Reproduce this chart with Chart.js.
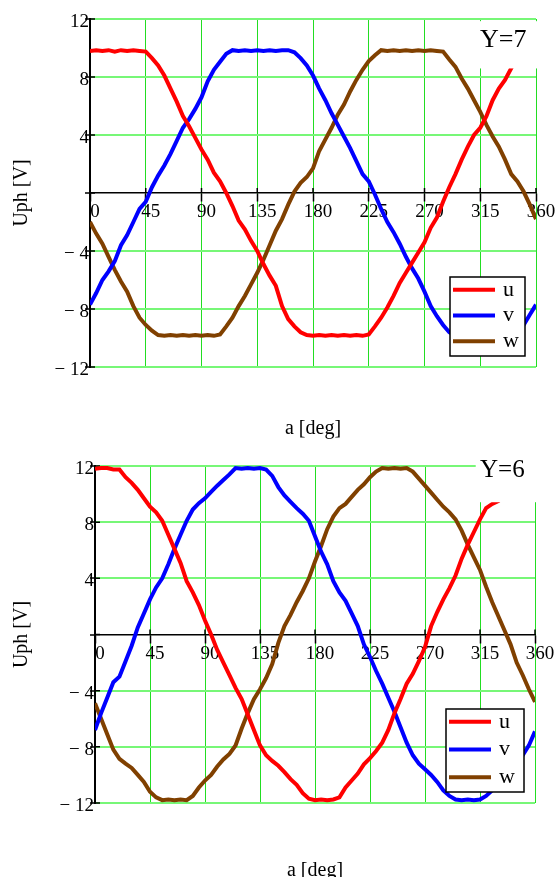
<!DOCTYPE html>
<html>
<head>
<meta charset="utf-8">
<script src="https://cdn.jsdelivr.net/npm/chart.js@4.4.1/dist/chart.umd.min.js"></script>
<style>
  html, body { margin: 0; padding: 0; background: #fff; }
  .panel { position: absolute; left: 0; width: 558px; }
  #top { top: 0; height: 440px; }
  #bottom { top: 440px; height: 437px; }
</style>
</head>
<body>
<div class="panel" id="top"><canvas id="chart7" width="558" height="440"></canvas></div>
<div class="panel" id="bottom"><canvas id="chart6" width="558" height="437"></canvas></div>
<script>
// angle a [deg], sampled every 5 degrees
const angles = [0, 5, 10, 15, 20, 25, 30, 35, 40, 45, 50, 55, 60, 65, 70, 75, 80, 85, 90,
  95, 100, 105, 110, 115, 120, 125, 130, 135, 140, 145, 150, 155, 160, 165, 170, 175, 180,
  185, 190, 195, 200, 205, 210, 215, 220, 225, 230, 235, 240, 245, 250, 255, 260, 265, 270,
  275, 280, 285, 290, 295, 300, 305, 310, 315, 320, 325, 330, 335, 340, 345, 350, 355, 360];
const xTicks = [0, 45, 90, 135, 180, 225, 270, 315, 360];
const yTicks = [-12, -8, -4, 0, 4, 8, 12];
const seriesNames = ["u", "v", "w"];
const seriesColors = ["#ff0000", "#0000ff", "#804000"];

// Y=7
const u7 = [9.8, 9.85, 9.8, 9.85, 9.75, 9.85, 9.8, 9.85, 9.8, 9.75, 9.3, 8.8, 8.1, 7.2, 6.3, 5.3, 4.6, 3.8, 3.0,
  2.3, 1.4, 0.8, 0.0, -0.9, -1.9, -2.5, -3.3, -4.0, -4.9, -5.7, -6.4, -7.8, -8.7, -9.2, -9.6, -9.8, -9.85,
  -9.8, -9.85, -9.8, -9.85, -9.8, -9.85, -9.8, -9.85, -9.75, -9.2, -8.6, -7.9, -7.1, -6.2, -5.5, -4.8, -4.1, -3.4,
  -2.4, -1.7, -0.6, 0.4, 1.3, 2.3, 3.2, 4.0, 4.5, 5.3, 6.4, 7.2, 7.8, 8.6, 9.3, 9.8, 9.85, 9.8];
const v7 = [-7.7, -6.9, -6.0, -5.4, -4.7, -3.6, -2.9, -2.0, -1.1, -0.6, 0.4, 1.2, 1.9, 2.7, 3.6, 4.5, 5.1, 5.8, 6.6,
  7.7, 8.5, 9.05, 9.6, 9.85, 9.8, 9.85, 9.8, 9.85, 9.8, 9.85, 9.8, 9.85, 9.85, 9.7, 9.3, 8.8, 8.1,
  7.2, 6.4, 5.5, 4.7, 3.9, 3.1, 2.2, 1.3, 0.8, -0.1, -1.1, -2.0, -2.7, -3.5, -4.4, -5.2, -5.9, -6.8,
  -7.8, -8.5, -9.1, -9.6, -9.85, -9.8, -9.85, -9.8, -9.85, -9.8, -9.85, -9.8, -9.85, -9.8, -9.6, -9.1, -8.4, -7.7];
const w7 = [-2.0, -2.8, -3.5, -4.4, -5.3, -6.1, -6.8, -7.8, -8.6, -9.1, -9.5, -9.8, -9.85, -9.8, -9.85, -9.8, -9.85, -9.8, -9.85,
  -9.8, -9.85, -9.75, -9.2, -8.6, -7.8, -7.1, -6.3, -5.5, -4.6, -3.6, -2.6, -1.8, -0.8, 0.1, 0.7, 1.1, 1.7,
  2.9, 3.7, 4.5, 5.4, 6.1, 7.0, 7.8, 8.5, 9.1, 9.5, 9.85, 9.8, 9.85, 9.8, 9.85, 9.8, 9.85, 9.8,
  9.85, 9.8, 9.75, 9.2, 8.7, 7.9, 7.2, 6.4, 5.6, 4.7, 3.9, 3.2, 2.3, 1.3, 0.8, 0.1, -0.8, -1.8];

// Y=6
const u6 = [11.8, 11.85, 11.85, 11.75, 11.75, 11.2, 10.8, 10.3, 9.7, 9.1, 8.7, 8.1, 7.1, 6.1, 5.1, 3.8, 3.0, 2.1, 1.0,
  0.0, -1.1, -2.0, -2.9, -3.8, -4.6, -5.7, -6.8, -7.9, -8.6, -9.0, -9.35, -9.8, -10.3, -10.7, -11.3, -11.7, -11.8,
  -11.75, -11.8, -11.75, -11.6, -10.9, -10.4, -9.9, -9.25, -8.8, -8.3, -7.7, -6.8, -5.6, -4.6, -3.5, -2.8, -1.9, -0.9,
  0.6, 1.6, 2.5, 3.3, 4.2, 5.4, 6.4, 7.3, 8.2, 9.0, 9.3, 9.5, 9.9, 10.4, 10.9, 11.3, 11.6, 11.8];
const v6 = [-6.8, -5.6, -4.5, -3.4, -3.0, -1.9, -0.8, 0.5, 1.5, 2.5, 3.35, 4.0, 5.0, 6.1, 7.1, 8.1, 8.9, 9.35, 9.7,
  10.15, 10.6, 11.0, 11.4, 11.85, 11.8, 11.85, 11.8, 11.85, 11.75, 11.3, 10.5, 9.9, 9.45, 9.0, 8.6, 8.1, 7.0,
  5.9, 5.0, 3.8, 3.0, 2.4, 1.5, 0.6, -0.7, -1.6, -2.6, -3.5, -4.5, -5.5, -6.6, -7.7, -8.6, -9.2, -9.6,
  -10.0, -10.5, -11.1, -11.5, -11.75, -11.8, -11.75, -11.8, -11.75, -11.5, -11.1, -10.7, -10.2, -9.7, -9.2, -8.6, -7.9, -6.9];
const w6 = [-4.9, -6.0, -7.1, -8.2, -8.85, -9.2, -9.5, -10.0, -10.5, -11.2, -11.6, -11.8, -11.75, -11.8, -11.75, -11.8, -11.5, -10.9, -10.4,
  -10.0, -9.4, -8.9, -8.5, -7.9, -6.7, -5.6, -4.6, -3.9, -3.1, -2.1, -0.6, 0.6, 1.4, 2.3, 3.1, 4.0, 5.2,
  6.3, 7.5, 8.4, 9.0, 9.3, 9.8, 10.3, 10.7, 11.2, 11.6, 11.85, 11.8, 11.85, 11.8, 11.85, 11.6, 11.1, 10.6,
  10.1, 9.6, 9.1, 8.7, 8.2, 7.4, 6.4, 5.5, 4.6, 3.4, 2.3, 1.3, 0.3, -0.7, -2.0, -2.9, -3.9, -4.8];

const serif = "'Liberation Serif', 'Times New Roman', serif";
Chart.defaults.font.family = serif;
Chart.defaults.color = "#000";

function yLabel(v) {
  if (v === 0) return "";
  return v < 0 ? "\u2212 " + Math.abs(v) : String(v);
}

// text, mask box, legend and small inner tick marks, drawn with the chart's own scales
const extras = {
  id: "extras",
  beforeDatasetsDraw(chart) {
    const { ctx, chartArea: a, scales: { x, y } } = chart;
    const y0 = y.getPixelForValue(0);
    ctx.save();
    ctx.strokeStyle = "#000";
    ctx.lineWidth = 1.5;
    ctx.beginPath();
    xTicks.forEach((v) => {
      const px = x.getPixelForValue(v);
      ctx.moveTo(px, y0 - 5);
      ctx.lineTo(px, y0);
    });
    yTicks.forEach((v) => {
      const py = y.getPixelForValue(v);
      ctx.moveTo(a.left, py);
      ctx.lineTo(a.left + 5, py);
    });
    ctx.stroke();
    ctx.restore();
  },
  afterDraw(chart, args, opts) {
    const { ctx, chartArea: a, scales: { x, y } } = chart;
    ctx.save();

    // white area behind the Y= label
    const mx = x.getPixelForValue(opts.maskX);
    const my1 = y.getPixelForValue(opts.maskTop);
    const my2 = y.getPixelForValue(opts.maskBottom);
    ctx.fillStyle = "#fff";
    ctx.fillRect(mx, my1, a.right + 6 - mx, my2 - my1);

    ctx.fillStyle = "#000";
    ctx.font = opts.titleSize + "px " + serif;
    ctx.textAlign = "left";
    ctx.textBaseline = "alphabetic";
    ctx.fillText(opts.title, a.right + opts.titleDx, a.top + opts.titleDy);

    // axis titles
    ctx.font = "20px " + serif;
    ctx.textAlign = "center";
    ctx.fillText("a [deg]", (a.left + a.right) / 2, a.bottom + opts.xTitleDy);
    ctx.save();
    ctx.translate(22, (a.top + a.bottom) / 2);
    ctx.rotate(-Math.PI / 2);
    ctx.textBaseline = "middle";
    ctx.fillText("Uph [V]", 0, 0);
    ctx.restore();

    // legend
    const lw = opts.legendW, lh = opts.legendH;
    const lx = a.right - 11 - lw, ly = a.bottom - 11 - lh;
    ctx.fillStyle = "#fff";
    ctx.fillRect(lx, ly, lw, lh);
    ctx.strokeStyle = "#000";
    ctx.lineWidth = 1.5;
    ctx.strokeRect(lx, ly, lw, lh);
    const step = (lh - 27.5) / 2;
    ctx.font = "22px " + serif;
    ctx.textAlign = "left";
    seriesNames.forEach((name, i) => {
      const ry = ly + 12.7 + i * step;
      ctx.strokeStyle = seriesColors[i];
      ctx.lineWidth = 4;
      ctx.beginPath();
      ctx.moveTo(lx + 3, ry);
      ctx.lineTo(lx + 45, ry);
      ctx.stroke();
      ctx.fillStyle = "#000";
      ctx.fillText(name, lx + 53, ry + 6);
    });
    ctx.restore();
  }
};

function makeChart(canvasId, series, cfg) {
  const datasets = series.map((vals, i) => ({
    label: seriesNames[i],
    data: angles.map((a, k) => ({ x: a, y: vals[k] })),
    borderColor: seriesColors[i],
    backgroundColor: seriesColors[i],
    borderWidth: 4,
    pointRadius: 0,
    tension: 0,
    fill: false
  }));

  return new Chart(document.getElementById(canvasId), {
    type: "line",
    data: { datasets },
    options: {
      responsive: false,
      animation: false,
      layout: { padding: cfg.padding },
      plugins: {
        legend: { display: false },
        tooltip: { enabled: false },
        extras: cfg.extras
      },
      scales: {
        x: {
          type: "linear",
          min: 0,
          max: 360,
          position: { y: 0 },
          afterFit: (s) => { s.height = 0; },
          afterBuildTicks: (s) => { s.ticks = xTicks.map((value) => ({ value })); },
          border: { color: "#000", width: 1.5 },
          grid: {
            color: (c) => (c.tick && c.tick.value === 0 ? "rgba(0,0,0,0)" : "#22dd22"),
            lineWidth: 1,
            tickColor: "#000",
            tickWidth: 1.5,
            tickLength: 8
          },
          ticks: { font: { size: 19 }, padding: 0, labelOffset: 5, maxRotation: 0, autoSkip: false }
        },
        y: {
          type: "linear",
          min: -12,
          max: 12,
          afterFit: (s) => { s.width = cfg.axisLeft; },
          afterBuildTicks: (s) => { s.ticks = yTicks.map((value) => ({ value })); },
          border: { color: "#000", width: 2 },
          grid: {
            color: (c) => (c.tick && c.tick.value === 0 ? "rgba(0,0,0,0)" : "#77f777"),
            lineWidth: 2,
            tickColor: "#000",
            tickWidth: 1.5,
            tickLength: 5
          },
          ticks: { font: { size: 19 }, padding: -4, labelOffset: 3, callback: yLabel }
        }
      }
    },
    plugins: [extras]
  });
}

makeChart("chart7", [u7, v7, w7], {
  axisLeft: 90,
  padding: { top: 19, right: 22, bottom: 73, left: 0 },
  extras: {
    title: "Y=7", titleSize: 26, titleDx: -56, titleDy: 28,
    maskX: 312.5, maskTop: 11.85, maskBottom: 8.59,
    xTitleDy: 67, legendW: 75, legendH: 79
  }
});

makeChart("chart6", [u6, v6, w6], {
  axisLeft: 95,
  padding: { top: 26, right: 23, bottom: 74, left: 0 },
  extras: {
    title: "Y=6", titleSize: 25, titleDx: -55, titleDy: 11,
    maskX: 311.5, maskTop: 13, maskBottom: 9.42,
    xTitleDy: 73, legendW: 78, legendH: 83
  }
});
</script>
</body>
</html>
